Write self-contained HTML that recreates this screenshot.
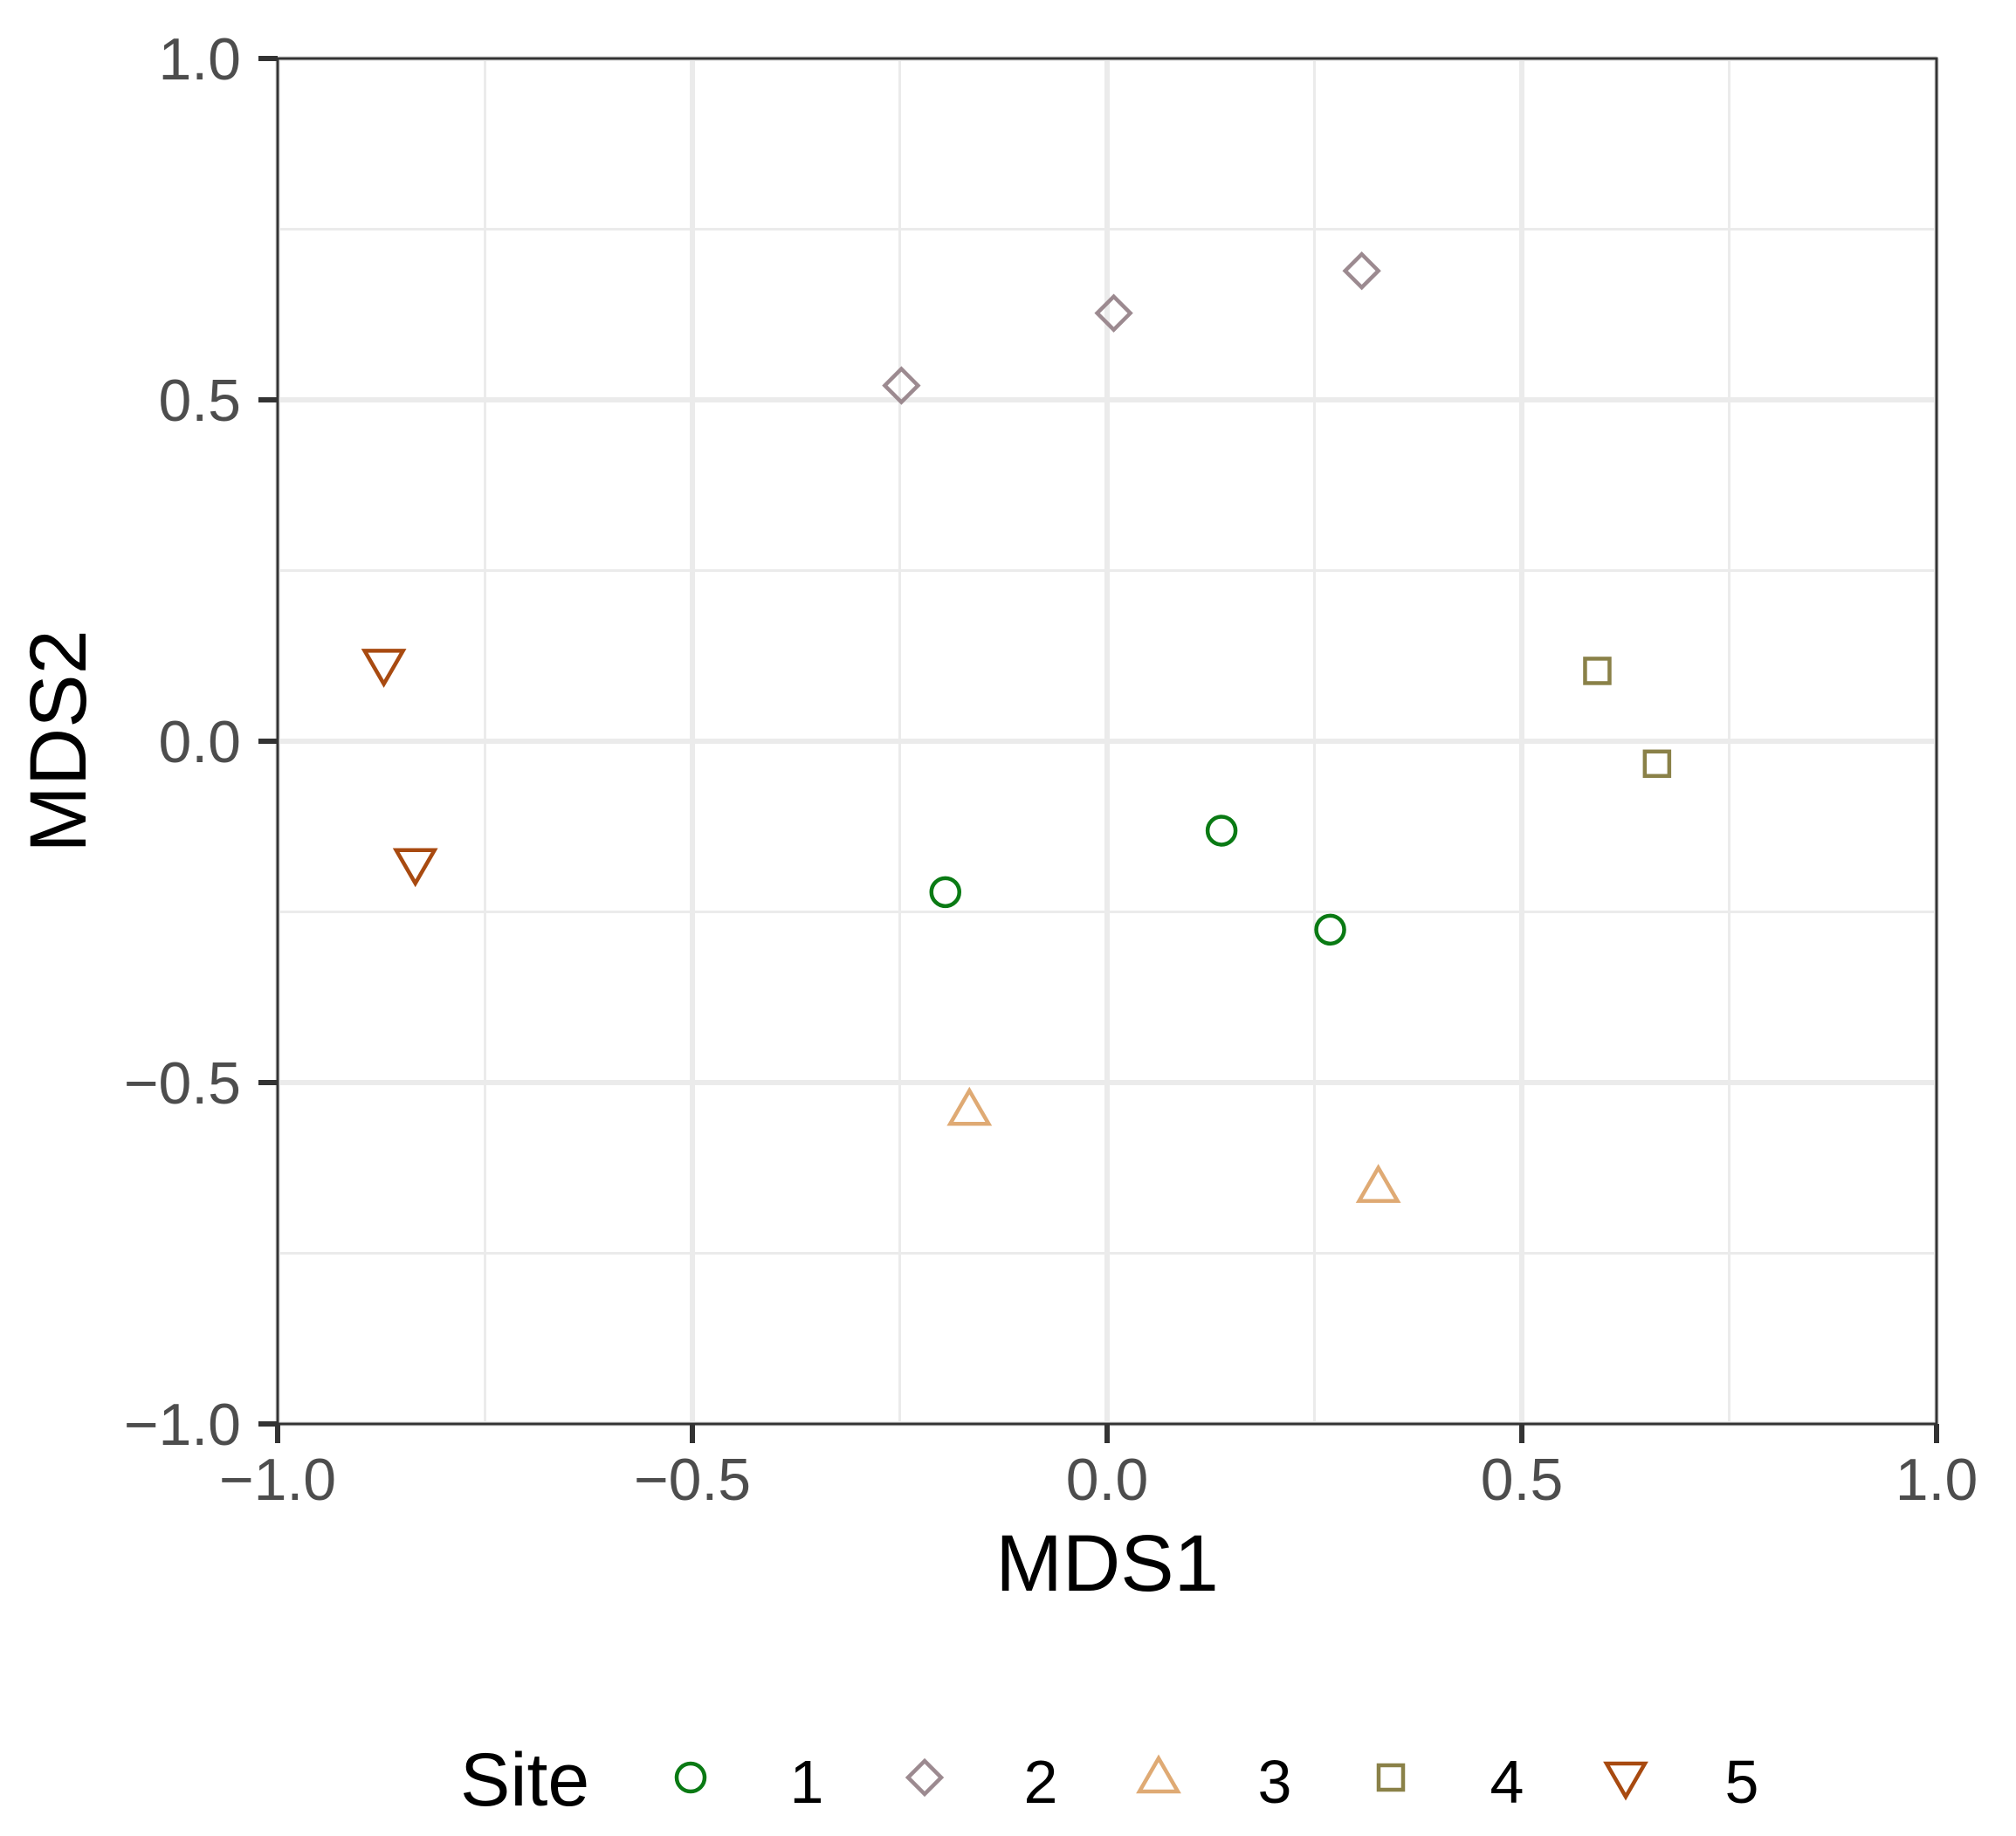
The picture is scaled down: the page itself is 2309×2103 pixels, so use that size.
<!DOCTYPE html>
<html><head><meta charset="utf-8"><style>
html,body{margin:0;padding:0;background:#fff;}
svg{display:block;font-family:"Liberation Sans",Arial,sans-serif;}
</style></head><body>
<svg id="chart" width="2309" height="2103" viewBox="0 0 2309 2103" xmlns="http://www.w3.org/2000/svg">
<rect width="2309" height="2103" fill="#fff"/>
<g id="grid"></g>
<g id="points"></g>
<rect x="318" y="67" width="1900" height="1564" fill="none" stroke="#333" stroke-width="3"/>
<g id="axes"></g>
<text x="1268" y="1822" font-size="92" text-anchor="middle" fill="#000">MDS1</text>
<text transform="translate(98,849) rotate(-90)" font-size="92" text-anchor="middle" fill="#000">MDS2</text>
<g id="legend">
<text x="527" y="2068" font-size="86" fill="#000">Site</text>
</g>
</svg>
<script>
const siteIds = ["1","2","3","4","5"];
const siteColors = ["#0a7a14","#9c8a90","#dfaa74","#8a8148","#a84a10"];
const pointSite = ["1","1","1","2","2","2","3","3","4","4","5","5"];
const mds1 = [0.138,-0.195,0.269,-0.248,0.008,0.307,-0.166,0.327,0.591,0.663,-0.872,-0.834];
const mds2 = [-0.131,-0.221,-0.276,0.521,0.627,0.689,-0.540,-0.653,0.103,-0.033,0.112,-0.180];
const xTicks = [-1.0,-0.5,0.0,0.5,1.0];
const yTicks = [-1.0,-0.5,0.0,0.5,1.0];
const xTickLabels = ["\u22121.0","\u22120.5","0.0","0.5","1.0"];
const yTickLabels = ["\u22121.0","\u22120.5","0.0","0.5","1.0"];
const minorTicks = [-0.75,-0.25,0.25,0.75];

const L=318,R=2218,T=67,B=1631;
const sx=v=>L+(v+1)/2*(R-L);
const sy=v=>B-(v+1)/2*(B-T);
const NS="http://www.w3.org/2000/svg";
function mk(tag,attrs,parent){const e=document.createElementNS(NS,tag);for(const k in attrs)e.setAttribute(k,attrs[k]);parent.appendChild(e);return e;}
const grid=document.getElementById('grid'),axes=document.getElementById('axes'),pts=document.getElementById('points'),leg=document.getElementById('legend');

minorTicks.forEach(v=>{
  let a=mk('line',{x1:sx(v),x2:sx(v),y1:T,y2:B,stroke:'#ebebeb','stroke-width':3},grid);
  
  
  let b=mk('line',{x1:L,x2:R,y1:sy(v),y2:sy(v),stroke:'#ebebeb','stroke-width':3},grid);
  
  
});
xTicks.forEach((v,i)=>{
  let g=mk('line',{x1:sx(v),x2:sx(v),y1:T,y2:B,stroke:'#ebebeb','stroke-width':6},grid);
  
  
  let t=mk('line',{x1:sx(v),x2:sx(v),y1:B,y2:B+22,stroke:'#333','stroke-width':6},axes);
  
  
  let lb=mk('text',{x:sx(v),y:B+87,'font-size':68,'text-anchor':'middle',fill:'#4d4d4d'},axes);
  lb.textContent=xTickLabels[i];
  
  
});
yTicks.forEach((v,i)=>{
  let g=mk('line',{x1:L,x2:R,y1:sy(v),y2:sy(v),stroke:'#ebebeb','stroke-width':6},grid);
  
  
  let t=mk('line',{x1:L-22,x2:L,y1:sy(v),y2:sy(v),stroke:'#333','stroke-width':6},axes);
  
  
  let lb=mk('text',{x:276,y:sy(v)+24,'font-size':68,'text-anchor':'end',fill:'#4d4d4d'},axes);
  lb.textContent=yTickLabels[i];
  
  
});

function shape(si,cx,cy,parent){
  const c=siteColors[si],st={fill:'none',stroke:c,'stroke-width':4.5};
  let e;
  if(si===0) e=mk('circle',Object.assign({cx:cx,cy:cy,r:16},st),parent);
  else if(si===1) e=mk('polygon',Object.assign({points:`${cx},${cy-19} ${cx+19},${cy} ${cx},${cy+19} ${cx-19},${cy}`},st),parent);
  else if(si===2) e=mk('polygon',Object.assign({points:`${cx},${cy-22} ${cx+22},${cy+16} ${cx-22},${cy+16}`},st),parent);
  else if(si===3) e=mk('rect',Object.assign({x:cx-14,y:cy-14,width:28,height:28},st),parent);
  else e=mk('polygon',Object.assign({points:`${cx},${cy+22} ${cx+22},${cy-16} ${cx-22},${cy-16}`},st),parent);
  return e;
}
mds1.forEach((v,i)=>{
  const si=siteIds.indexOf(pointSite[i]);
  const e=shape(si,sx(v),sy(mds2[i]),pts);
  
  
});
const legX=[791,1059,1327,1593,1862];
siteIds.forEach((s,i)=>{
  const e=shape(i,legX[i],2036,leg);
  
  
  const t=mk('text',{x:legX[i]+133,y:2065,'font-size':70,'text-anchor':'middle',fill:'#000'},leg);
  t.textContent=s;
  
  
});
</script>
</body></html>
